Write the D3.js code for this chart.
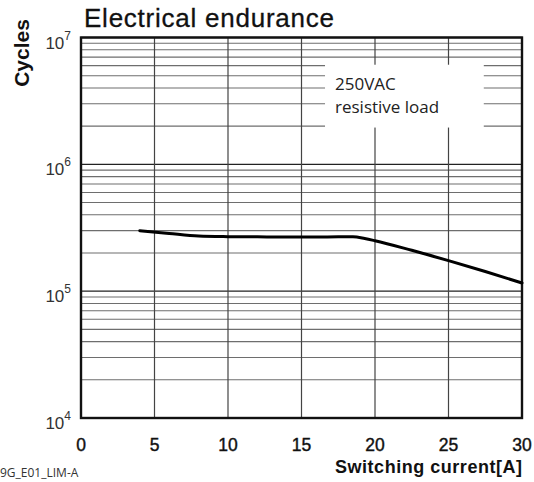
<!DOCTYPE html>
<html lang="en">
<head>
    <meta charset="UTF-8">
    <title>Electrical endurance</title>
    <script src="https://d3js.org/d3.v7.min.js"></script>
    <style>
        body, html {
            margin: 0;
            background: #fff;
            font-family: "Liberation Sans", Arial, sans-serif;
        }
        svg { display: block; }
    </style>
</head>
<body>
    <div id="chart"></div>

    <script>
        // Data
        const currentA = [4, 6, 8, 10, 12, 14, 16, 17.5, 18.5, 19.3, 20, 22.5, 25, 27.5, 30];
        const cycles = [3.0e5, 2.85e5, 2.72e5, 2.69e5, 2.68e5, 2.67e5, 2.67e5, 2.68e5, 2.68e5, 2.6e5, 2.5e5, 2.1e5, 1.74e5, 1.43e5, 1.16e5];
        const xTicks = [0, 5, 10, 15, 20, 25, 30];
        const yDecades = [4, 5, 6, 7];
        const noteLines = ["250VAC", "resistive load"];

        const width = 534;
        const height = 482;
        const margin = { top: 37.5, right: 12, bottom: 64, left: 81 };

        const svg = d3.select("#chart")
            .append("svg")
            .attr("width", width)
            .attr("height", height);

        const x = d3.scaleLinear().domain([0, 30]).range([margin.left, width - margin.right]);
        const y = d3.scaleLog().domain([1e4, 1e7]).range([height - margin.bottom, margin.top]);

        // minor log grid 2..9 in each decade
        const minor = [];
        for (let d = 4; d < 7; d++) {
            for (let m = 2; m <= 9; m++) minor.push(m * Math.pow(10, d));
        }
        const majors = yDecades.map(d => Math.pow(10, d));

        svg.append("g")
            .selectAll("line")
            .data(minor)
            .join("line")
            .attr("x1", x(0)).attr("x2", x(30))
            .attr("y1", d => y(d)).attr("y2", d => y(d))
            .attr("stroke", "#6e6e6e")
            .attr("stroke-width", 1.1);

        svg.append("g")
            .selectAll("line")
            .data(majors)
            .join("line")
            .attr("x1", x(0)).attr("x2", x(30))
            .attr("y1", d => y(d)).attr("y2", d => y(d))
            .attr("stroke", "#222")
            .attr("stroke-width", 1.3);

        // vertical grid
        svg.append("g")
            .selectAll("line")
            .data(xTicks.slice(1, -1))
            .join("line")
            .attr("x1", d => x(d)).attr("x2", d => x(d))
            .attr("y1", y(1e4)).attr("y2", y(1e7))
            .attr("stroke", "#444")
            .attr("stroke-width", 1.2);

        // white note box covering the grid
        const boxX = x(16.6), boxY = y(6.1e6);
        const boxW = x(27.4) - boxX, boxH = y(1.95e6) - boxY;
        svg.append("rect")
            .attr("x", boxX).attr("y", boxY)
            .attr("width", boxW).attr("height", boxH)
            .attr("fill", "#fff");

        svg.append("g")
            .selectAll("text")
            .data(noteLines)
            .join("text")
            .attr("x", boxX + 10)
            .attr("y", (d, i) => boxY + 25 + i * 23)
            .attr("font-family", "'Open Sans', sans-serif")
            .attr("font-size", 17)
            .attr("fill", "#222")
            .text(d => d);

        // frame
        svg.append("rect")
            .attr("x", x(0)).attr("y", y(1e7))
            .attr("width", x(30) - x(0)).attr("height", y(1e4) - y(1e7))
            .attr("fill", "none")
            .attr("stroke", "#111")
            .attr("stroke-width", 2.4);

        // endurance curve
        const line = d3.line()
            .x(d => x(d[0]))
            .y(d => y(d[1]))
            .curve(d3.curveMonotoneX);

        svg.append("path")
            .datum(currentA.map((c, i) => [c, cycles[i]]))
            .attr("d", line)
            .attr("fill", "none")
            .attr("stroke", "#000")
            .attr("stroke-width", 3)
            .attr("stroke-linecap", "round");

        // y tick labels 10^n
        const yLab = svg.append("g")
            .selectAll("text")
            .data(yDecades)
            .join("text")
            .attr("x", 71)
            .attr("y", d => y(Math.pow(10, d)) + 11)
            .attr("text-anchor", "end")
            .attr("font-size", 17)
            .attr("fill", "#333");
        yLab.append("tspan").text("10");
        yLab.append("tspan")
            .attr("dy", -9)
            .attr("font-size", 12)
            .text(d => d);

        // x tick labels
        svg.append("g")
            .selectAll("text")
            .data(xTicks)
            .join("text")
            .attr("x", d => x(d))
            .attr("y", 450.5)
            .attr("text-anchor", "middle")
            .attr("font-size", 17.5)
            .attr("fill", "#111")
            .attr("stroke", "#111")
            .attr("stroke-width", 0.4)
            .text(d => d);

        // titles
        svg.append("text")
            .attr("x", 84)
            .attr("y", 27)
            .attr("font-size", 26)
            .attr("textLength", 250)
            .attr("fill", "#111")
            .attr("stroke", "#111")
            .attr("stroke-width", 0.3)
            .text("Electrical endurance");

        svg.append("text")
            .attr("transform", "translate(29,53) rotate(-90)")
            .attr("text-anchor", "middle")
            .attr("font-size", 21)
            .attr("font-weight", "bold")
            .attr("fill", "#111")
            .text("Cycles");

        svg.append("text")
            .attr("x", 335)
            .attr("y", 473)
            .attr("font-size", 18)
            .attr("font-weight", "bold")
            .attr("textLength", 187)
            .attr("fill", "#111")
            .text("Switching current[A]");

        svg.append("text")
            .attr("x", 0)
            .attr("y", 477)
            .attr("font-family", "'Open Sans', sans-serif")
            .attr("font-size", 12)
            .attr("fill", "#333")
            .text("9G_E01_LIM-A");
    </script>
</body>
</html>
